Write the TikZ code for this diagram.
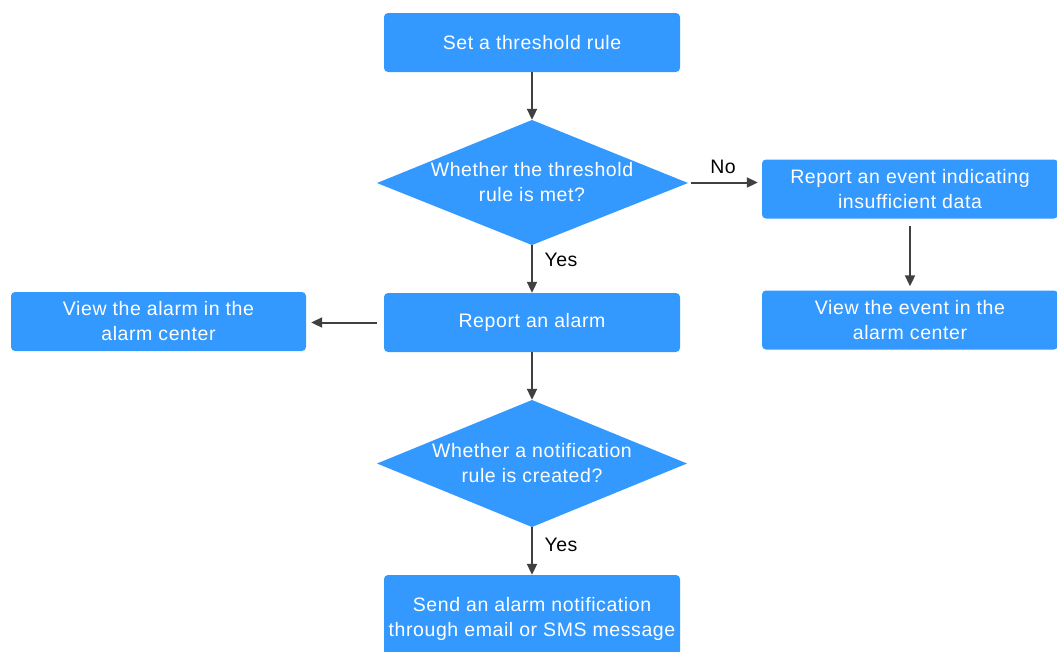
\documentclass[tikz,border=0pt]{standalone}
\usepackage{fontspec}
\setmainfont{Liberation Sans}[LetterSpace=3]
\usetikzlibrary{arrows.meta}
\definecolor{boxblue}{RGB}{51,153,255}
\definecolor{arrowgray}{RGB}{64,64,64}
\begin{document}
\begin{tikzpicture}[x=1pt,y=-1pt,
  every node/.style={font=\fontsize{19.5}{25}\selectfont},
  procbox/.style={fill=boxblue, draw=none, rounded corners=4pt, minimum width=296pt, minimum height=59pt, text=white, align=center, inner sep=0pt},
  dtext/.style={text=white, align=center, inner sep=0pt, minimum width=311pt, minimum height=125pt},
  flow/.style={draw=arrowgray, line width=2pt, -{Triangle[length=11pt,width=10pt]}},
  lbl/.style={text=black, inner sep=0pt}
]
\useasboundingbox (0,0) rectangle (1057,651);
\begin{scope}
\clip (0,0) rectangle (1057,651);
\node[procbox] (set) at (532,42.5) {Set a threshold rule};
\fill[boxblue] (377,183) -- (532,120) -- (688,183) -- (532,245) -- cycle;
\node[dtext] (d1) at (532,182.5) {Whether the threshold\\rule is met?};
\node[procbox] (repev) at (910,189) {Report an event indicating\\insufficient data};
\node[procbox] (viewev) at (910,320) {View the event in the\\alarm center};
\node[procbox] (repal) at (532,322.5) {Report an alarm};
\node[procbox, minimum width=295pt] (viewal) at (158.5,321.5) {View the alarm in the\\alarm center};
\fill[boxblue] (377,463.5) -- (532,400) -- (687,463.5) -- (532,527) -- cycle;
\node[dtext, minimum width=310pt, minimum height=127pt] (d2) at (532,463.5) {Whether a notification\\rule is created?};
\node[procbox, minimum height=80pt] (send) at (532,615) {};
\node[text=white, align=center, inner sep=0pt] (sendtxt) at (532,619) {Send an alarm notification\\through email or SMS message};
\end{scope}
\draw[flow] (set.south) -- (d1.north);
\draw[flow] (d1.south) -- (repal.north);
\node[lbl] (yes1) at (561,260) {Yes};
\draw[flow, shorten <=3pt, shorten >=4pt] (d1.east) -- (d1.east -| repev.west);
\node[lbl] (no1) at (723,167) {No};
\draw[flow, shorten <=7pt, shorten >=4pt] (repev.south) -- (viewev.north);
\draw[flow, shorten <=7pt, shorten >=5pt] (repal.west) -- (repal.west -| viewal.east);
\draw[flow] (repal.south) -- (d2.north);
\draw[flow] (d2.south) -- (send.north);
\node[lbl] (yes2) at (561,545) {Yes};
\end{tikzpicture}
\end{document}
